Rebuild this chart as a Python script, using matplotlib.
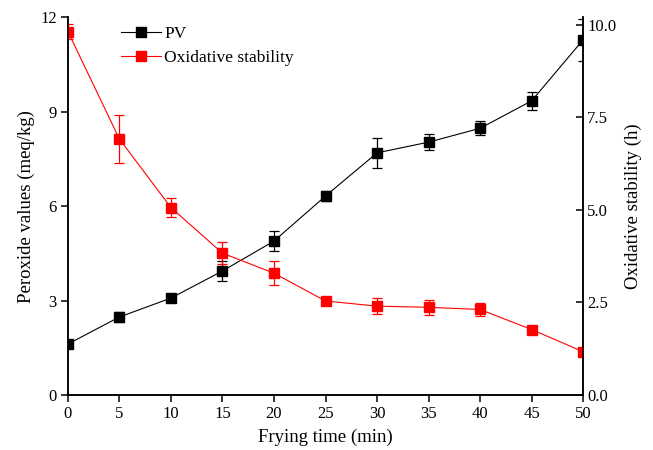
import matplotlib
matplotlib.use("Agg")
import matplotlib.pyplot as plt
import numpy as np

plt.rcParams['font.family'] = ['Liberation Serif', 'DejaVu Serif']
plt.rcParams['font.size'] = 12

time = [0, 5, 10, 15, 20, 25, 30, 35, 40, 45, 50]
pv = [1.62, 2.48, 3.08, 3.94, 4.89, 6.32, 7.69, 8.03, 8.47, 9.34, 11.28]
pv_err = [0.05, 0.17, 0.10, 0.33, 0.33, 0.16, 0.48, 0.25, 0.22, 0.29, 0.66]
os_h = [9.81, 6.91, 5.06, 3.83, 3.29, 2.54, 2.40, 2.37, 2.31, 1.77, 1.17]
os_err = [0.20, 0.64, 0.25, 0.29, 0.33, 0.05, 0.21, 0.20, 0.18, 0.08, 0.04]

fig = plt.figure(figsize=(6.53, 4.5), dpi=100)
ax = fig.add_axes([0.104, 0.122, 0.789, 0.84])
ax2 = ax.twinx()

l1 = ax.errorbar(time, pv, yerr=pv_err, color='black', marker='s', markersize=7,
                 lw=0.8, elinewidth=0.9, capsize=3.5, capthick=0.9, label='PV')
l2 = ax2.errorbar(time, os_h, yerr=os_err, color='red', marker='s', markersize=7,
                  lw=0.8, elinewidth=0.9, capsize=3.5, capthick=0.9,
                  label='Oxidative stability')

ax.set_xlim(0, 50)
ax.set_ylim(0, 12)
ax2.set_ylim(0, 10.2)
ax.set_xticks(np.arange(0, 51, 5))
ax.set_yticks([0, 3, 6, 9, 12])
ax2.set_yticks([0, 2.5, 5, 7.5, 10])
ax2.set_yticklabels(['0.0', '2.5', '5.0', '7.5', '10.0'])

for a in (ax, ax2):
    a.spines['top'].set_visible(False)
    for s in a.spines.values():
        s.set_linewidth(1.1)
ax.tick_params(direction='out', length=5, width=1.1, pad=3)
ax2.tick_params(direction='in', length=5, width=1.1, pad=3)

ax.set_xlabel('Frying time (min)', fontsize=13.5, labelpad=5)
ax.set_ylabel('Peroxide values (meq/kg)', fontsize=13.5, labelpad=4)
ax2.set_ylabel('Oxidative stability (h)', fontsize=13.5, labelpad=6)

ax.legend([l1[0], l2[0]], ['PV', 'Oxidative stability'], loc='upper left',
          bbox_to_anchor=(0.072, 1.018), frameon=False, handlelength=2.3,
          handletextpad=0.2, labelspacing=0.45, fontsize=12.5)

fig.savefig('out.png', dpi=100)
